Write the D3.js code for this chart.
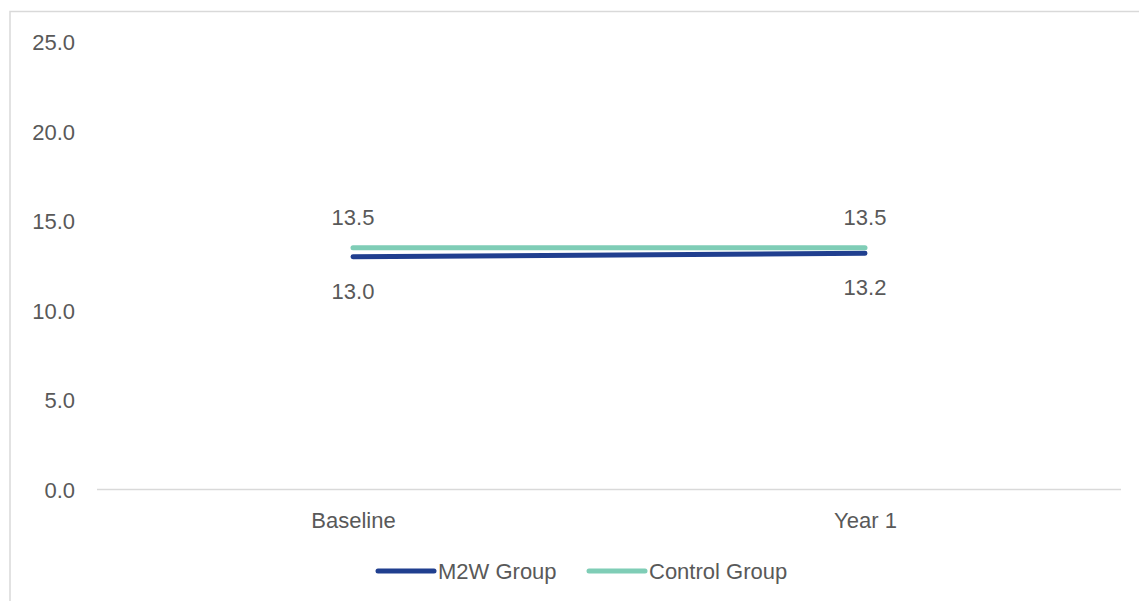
<!DOCTYPE html>
<html><head><meta charset="utf-8">
<script src="https://cdn.jsdelivr.net/npm/d3@7"></script>
<style>body{margin:0;background:#fff;} svg{display:block;}</style>
</head><body>
<svg id="c" width="1139" height="601"></svg>
<script>
const categories = ["Baseline", "Year 1"];
const m2wValues = [13.0, 13.2];
const controlValues = [13.5, 13.5];
const yTicks = [0, 5, 10, 15, 20, 25];
const seriesNames = ["M2W Group", "Control Group"];
const seriesColors = ["#203f8f", "#7fcdb6"];

const svg = d3.select("#c");
const font = "'Liberation Sans', Arial, sans-serif";
const textColor = "#595959";

svg.append("rect").attr("x",10).attr("y",11.5).attr("width",1300).attr("height",800)
  .attr("fill","none").attr("stroke","#d9d9d9").attr("stroke-width",1.5);

const x = d3.scalePoint().domain(categories).range([97,1121]).padding(0.5);
const y = d3.scaleLinear().domain([0,25]).range([489.5,42]);

// x axis line
svg.append("line").attr("x1",97).attr("x2",1121).attr("y1",y(0)).attr("y2",y(0))
  .attr("stroke","#d9d9d9").attr("stroke-width",1.5);

// y axis labels
const yAxis = d3.axisLeft(y).tickValues(yTicks).tickFormat(d3.format(".1f")).tickSize(0).tickPadding(0);
const ya = svg.append("g").attr("transform","translate(75,0)").call(yAxis);
ya.select(".domain").remove();
ya.selectAll("text").attr("font-family",font).attr("font-size",22).attr("fill",textColor).attr("dy","0.35em");

// x axis labels
const xAxis = d3.axisBottom(x).tickSize(0).tickPadding(0);
const xa = svg.append("g").attr("transform","translate(0,520)").call(xAxis);
xa.select(".domain").remove();
xa.selectAll("text").attr("font-family",font).attr("font-size",22).attr("fill",textColor).attr("dy","0.35em");

const series = [
  {name: seriesNames[0], values: m2wValues, color: seriesColors[0], labelDy: 34},
  {name: seriesNames[1], values: controlValues, color: seriesColors[1], labelDy: -31}
];
const line = d3.line().x((d,i)=>x(categories[i])).y(d=>y(d));

series.forEach(s=>{
  svg.append("path").datum(s.values).attr("d",line).attr("fill","none")
    .attr("stroke",s.color).attr("stroke-width",5).attr("stroke-linecap","round");
  svg.selectAll(null).data(s.values).enter().append("text")
    .attr("x",(d,i)=>x(categories[i])).attr("y",d=>y(d)+s.labelDy)
    .attr("dy","0.35em").attr("text-anchor","middle")
    .attr("font-family",font).attr("font-size",22).attr("fill",textColor)
    .text(d=>d3.format(".1f")(d));
});

// legend
const legendX = [378, 589];
series.forEach((s,i)=>{
  const g = svg.append("g").attr("transform",`translate(${legendX[i]},571)`);
  g.append("line").attr("x1",0).attr("x2",56).attr("y1",0).attr("y2",0)
    .attr("stroke",s.color).attr("stroke-width",5).attr("stroke-linecap","round");
  g.append("text").attr("x",60).attr("y",0).attr("dy","0.35em")
    .attr("font-family",font).attr("font-size",22).attr("fill",textColor).text(s.name);
});
</script>
</body></html>
